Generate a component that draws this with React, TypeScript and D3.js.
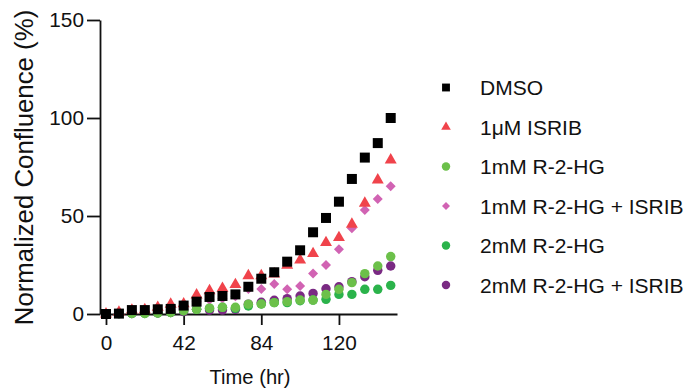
import React, { useEffect, useRef } from "react";
import * as d3 from "d3";

// time points (hr)
const times = [0, 7, 14, 21, 28, 35, 42, 49, 56, 63, 70, 77, 84, 91, 98, 105, 112, 119, 126, 133, 140, 147, 154];

const dmso = [0, 0.2, 2, 2, 2.4, 2.6, 4.3, 6.3, 8.7, 9.2, 10, 13.9, 18, 21.3, 26.7, 32.5, 41.7, 49, 57.3, 68.9, 79.8, 87.2, 100];
const isrib = [0, 1, 2, 2.2, 3.4, 5, 5.2, 9.7, 11.9, 13.1, 15, 19.5, 19.5, 20.4, 24.8, 27.5, 30.8, 36.4, 39, 45.8, 56.5, 68.4, 78.6];
const hg1 = [0, 0.2, 0.3, 0.3, 0.5, 0.8, 1.7, 2.4, 3, 3.4, 3.4, 5, 5.1, 5.8, 6.3, 7.1, 7.1, 10, 12.6, 16, 20.6, 24.5, 29.3];
const hg1Isrib = [0, 0.3, 0.8, 1, 1.5, 2, 2.5, 6.3, 7.3, 7.9, 9, 12.8, 12.8, 15.3, 12.6, 14.3, 20.7, 25, 33, 43.7, 53, 58.7, 65.2];
const hg2 = [0, 0.2, 0.3, 0.3, 0.5, 0.8, 1.7, 2.4, 2.9, 3.4, 2.9, 4.1, 5.1, 5.8, 5.8, 6.8, 7.1, 7.5, 10, 10, 12.6, 12.6, 14.6];
const hg2Isrib = [0, 0.2, 0.3, 0.5, 0.5, 0.8, 1.2, 2.4, 2, 2, 2.4, 5, 6, 7, 7.8, 9.2, 10.5, 12.9, 13.9, 16.5, 19, 22.3, 24.5];

const seriesNames = ["DMSO", "1μM ISRIB", "1mM R-2-HG", "1mM R-2-HG + ISRIB", "2mM R-2-HG", "2mM R-2-HG + ISRIB"];
const seriesValues = [dmso, isrib, hg1, hg1Isrib, hg2, hg2Isrib];
const seriesColors = ["#000000", "#f0434b", "#6cc04a", "#d163b3", "#2bb34b", "#7a2a83"];
const seriesShapes = ["square", "triangle", "circle", "diamond", "circle", "circle"];

const xTicks = [0, 42, 84, 126];
const xTickLabels = ["0", "42", "84", "120"];
const yTicks = [0, 50, 100, 150];

const font = "'Liberation Sans', Arial, Helvetica, sans-serif";

function symbolPath(shape: string, big: boolean) {
  const sizes: Record<string, number> = big
    ? { square: 100, triangle: 62, circle: 70, diamond: 50 }
    : { square: 62, triangle: 40, circle: 56, diamond: 32 };
  const type = shape === "triangle" ? d3.symbolTriangle : shape === "circle" ? d3.symbolCircle : d3.symbolSquare;
  return d3.symbol().type(type).size(sizes[shape])();
}

export default function App() {
  const ref = useRef<SVGSVGElement>(null);

  useEffect(() => {
    document.body.style.margin = "0";
    const width = 688, height = 391;
    const svg = d3.select(ref.current);
    svg.selectAll("*").remove();
    svg.attr("width", width).attr("height", height);

    const x = d3.scaleLinear().domain([-3.24, 157.4]).range([100, 397]);
    const y = d3.scaleLinear().domain([0, 150]).range([314, 20]);

    // y axis
    const yAxis = svg.append("g")
      .attr("transform", `translate(${x(-3.24)},0)`)
      .call(d3.axisLeft(y).tickValues(yTicks).tickSize(13).tickSizeOuter(0).tickPadding(3));
    // x axis
    const xAxis = svg.append("g")
      .attr("transform", `translate(0,${y(0)})`)
      .call(d3.axisBottom(x).tickValues(xTicks).tickFormat((d, i) => xTickLabels[i]).tickSize(11).tickSizeOuter(0).tickPadding(10));

    [yAxis, xAxis].forEach(g => {
      g.select(".domain").attr("stroke", "#111").attr("stroke-width", 1.8);
      g.selectAll(".tick line").attr("stroke", "#111").attr("stroke-width", 1.8);
      g.selectAll(".tick text").attr("font-family", font).attr("font-size", 20.8).attr("fill", "#111");
    });

    // points, last legend entry drawn first so DMSO sits on top
    for (let s = seriesValues.length - 1; s >= 0; s--) {
      const shape = seriesShapes[s];
      svg.append("g")
        .selectAll("path")
        .data(seriesValues[s])
        .enter()
        .append("path")
        .attr("d", symbolPath(shape, true))
        .attr("transform", (d, i) => `translate(${x(times[i])},${y(d)})${shape === "diamond" ? " rotate(45)" : ""}`)
        .attr("fill", seriesColors[s]);
    }

    // axis titles
    svg.append("text")
      .attr("x", 250).attr("y", 384)
      .attr("text-anchor", "middle")
      .attr("font-family", font).attr("font-size", 20.2)
      .attr("fill", "#111")
      .text("Time (hr)");

    svg.append("text")
      .attr("transform", "translate(33,167.5) rotate(-90)")
      .attr("text-anchor", "middle")
      .attr("font-family", font).attr("font-size", 25.8)
      .attr("fill", "#111")
      .text("Normalized Confluence (%)");

    // legend
    const legend = svg.append("g").attr("transform", "translate(446,87.5)");
    seriesNames.forEach((name, i) => {
      const row = legend.append("g").attr("transform", `translate(0,${i * 39.5})`);
      row.append("path")
        .attr("d", symbolPath(seriesShapes[i], false))
        .attr("transform", seriesShapes[i] === "diamond" ? "rotate(45)" : null)
        .attr("fill", seriesColors[i]);
      row.append("text")
        .attr("x", 34).attr("dy", "0.36em")
        .attr("font-family", font).attr("font-size", 21)
        .attr("fill", "#111")
        .text(name);
    });
  }, []);

  return <svg ref={ref} style={{ display: "block" }}></svg>;
}
